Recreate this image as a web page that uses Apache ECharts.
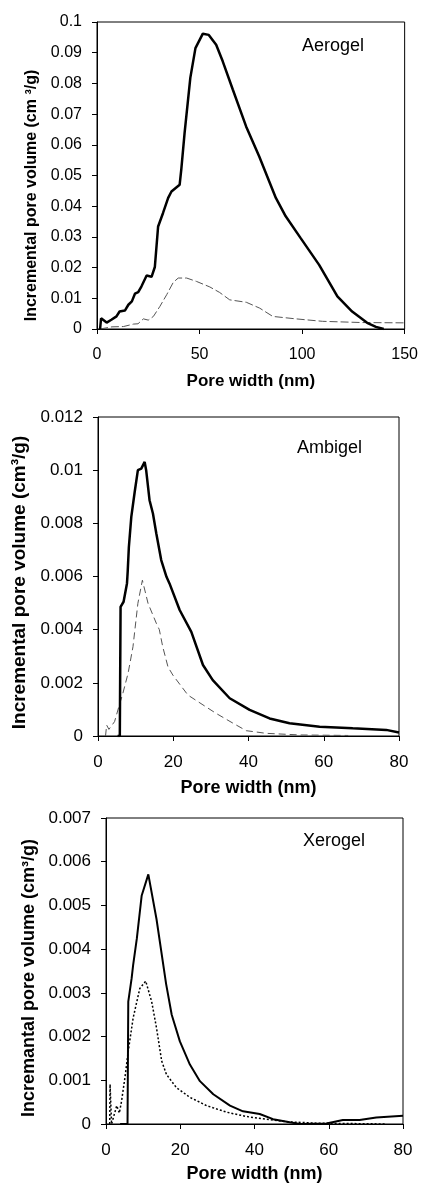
<!DOCTYPE html>
<html>
<head>
<meta charset="utf-8">
<title>Pore size distributions</title>
<script src="https://cdn.jsdelivr.net/npm/echarts@6/dist/echarts.min.js"></script>
<style>
  html, body { margin: 0; padding: 0; background: #fff; }
  #main { width: 421px; height: 1184px; }
</style>
</head>
<body>
<div id="main"></div>
<script>
// pore width (nm) / incremental pore volume (cm3/g)

// Aerogel
var aeroThickX = [1.5, 2, 4.7, 7, 9.5, 11, 13.6, 15.3, 17, 18.5, 20.1, 21.7, 24.2, 26.6, 28.2, 29.8, 32.2, 34.7, 36.3, 40.3, 41.1, 42.7, 45.5, 48, 51.6, 54.5, 58.1, 61.3, 66.2, 72.7, 79.1, 87.2, 92, 99.3, 108.3, 117.2, 124.4, 131.7, 136, 139.8]
var aeroThickY = [0, 0.0035, 0.0021, 0.003, 0.0041, 0.0057, 0.006, 0.0079, 0.009, 0.0115, 0.012, 0.0139, 0.0174, 0.017, 0.0202, 0.0334, 0.0378, 0.0427, 0.0448, 0.047, 0.052, 0.0638, 0.0818, 0.0915, 0.0962, 0.0958, 0.0926, 0.0872, 0.078, 0.066, 0.0562, 0.0427, 0.0367, 0.0296, 0.0209, 0.0106, 0.0057, 0.002, 0.0007, 0]
var aeroThinX = [1.5, 7.3, 12.9, 17.8, 20, 22.6, 25, 27.5, 30.7, 34, 37.2, 39.6, 43.7, 48.5, 55, 59.8, 64.7, 72.8, 79.3, 85.7, 97, 110, 129.3, 150]
var aeroThinY = [0, 0.0007, 0.0008, 0.0016, 0.0017, 0.0033, 0.0029, 0.0041, 0.0074, 0.0112, 0.0152, 0.0166, 0.0166, 0.0155, 0.0137, 0.0119, 0.0095, 0.0087, 0.0068, 0.0041, 0.0033, 0.0025, 0.0021, 0.002]

// Ambigel
var ambiThickX = [5.2, 5.8, 6, 6.8, 7.7, 7.9, 8.2, 8.85, 9.75, 10.6, 11.5, 12.4, 12.8, 13.7, 14.6, 15.5, 16.8, 18.2, 19, 21.7, 24.8, 27.9, 30.5, 35, 40.3, 45.6, 50.9, 58.9, 67.7, 76.6, 80]
var ambiThickY = [0, 0, 0.00486, 0.00505, 0.00574, 0.0062, 0.0071, 0.00824, 0.00918, 0.01, 0.01006, 0.01031, 0.01, 0.00887, 0.00837, 0.00762, 0.00662, 0.00599, 0.00574, 0.00474, 0.00392, 0.00267, 0.0021, 0.00142, 0.00098, 0.00066, 0.00048, 0.00035, 0.00029, 0.00023, 0.00013]
var ambiThinX = [2, 2.3, 2.9, 4.4, 5.6, 6.6, 8, 9.3, 10.6, 11.8, 13.3, 15.5, 16.3, 17.2, 18.6, 19.9, 23.9, 27.9, 31.4, 35.9, 39.4, 44.7, 53.6, 66.5]
var ambiThinY = [0, 0.00041, 0.00025, 0.00054, 0.00113, 0.0016, 0.00236, 0.00336, 0.00499, 0.00586, 0.00499, 0.00424, 0.004, 0.00336, 0.0026, 0.00229, 0.00154, 0.00117, 0.00085, 0.00048, 0.0002, 0.0001, 0.00004, 0.00002]

// Xerogel
var xeroThickX = [3.8, 5.8, 6, 6.9, 7.3, 8.3, 9.6, 11.4, 13.6, 16.2, 17.7, 19.9, 22.6, 25.3, 28.9, 33.4, 36.9, 41.4, 45, 49.5, 52.2, 59.4, 63.8, 68.3, 72.8, 80]
var xeroThickY = [0, 0, 0.0028, 0.00333, 0.00363, 0.00424, 0.00522, 0.00571, 0.00469, 0.0032, 0.0025, 0.00189, 0.00136, 0.00098, 0.00068, 0.00042, 0.00029, 0.00023, 0.00011, 0.00004, 0, 0.00001, 0.00009, 0.00009, 0.00015, 0.00019]
var xeroDotX = [1, 1.1, 1.5, 2, 2.9, 3.6, 4.2, 5.1, 6, 7.3, 9.1, 10.7, 12.3, 13.6, 15, 16.3, 19, 22.6, 27.1, 32.5, 37.9, 43.2, 48.6, 56.6, 75.5]
var xeroDotY = [0, 0.00091, 0, 0, 0.00042, 0.00025, 0.00053, 0.00106, 0.00167, 0.00242, 0.0031, 0.00327, 0.0028, 0.0022, 0.00144, 0.00113, 0.00083, 0.00061, 0.00042, 0.00027, 0.00017, 0.00011, 0.00005, 0.00002, 0]

var FONT = 'Liberation Sans, Arial, sans-serif'

function pairs(xs, ys) {
  return xs.map(function (x, i) { return [x, ys[i]] })
}

function xAxisOf(idx, max, step, fs, gap) {
  return {
    type: 'value', gridIndex: idx, min: 0, max: max, interval: step,
    name: 'Pore width (nm)', nameLocation: 'middle', nameGap: gap,
    nameTextStyle: { fontFamily: FONT, fontWeight: 'bold', fontSize: fs, color: '#000' },
    axisLine: { lineStyle: { color: '#000', width: 1 } },
    axisTick: { show: true, inside: false, length: 5, lineStyle: { color: '#000' } },
    axisLabel: { fontFamily: FONT, fontSize: fs - 1, color: '#000', margin: 18 },
    splitLine: { show: false }
  }
}

// shift > 0 moves the rotated name down the page
function yAxisOf(idx, max, step, name, fs, lfs, gap, shift) {
  return {
    type: 'value', gridIndex: idx, min: 0, max: max, interval: step,
    name: name, nameLocation: 'middle', nameGap: gap,
    nameTextStyle: { fontFamily: FONT, fontWeight: 'bold', fontSize: fs, color: '#000',
      padding: [0, shift * 2, 0, 0] },
    axisLine: { show: true, lineStyle: { color: '#000', width: 1 } },
    axisTick: { show: true, inside: false, length: 5, lineStyle: { color: '#000' } },
    axisLabel: { fontFamily: FONT, fontSize: lfs, color: '#000', margin: 15 },
    splitLine: { show: false }
  }
}

function lineOf(idx, data, width, color, type) {
  return {
    type: 'line', xAxisIndex: idx, yAxisIndex: idx, data: data,
    symbol: 'none', smooth: false, silent: true,
    lineStyle: { color: color, width: width, type: type }
  }
}

var chart = echarts.init(document.getElementById('main'), null, { renderer: 'canvas' })

chart.setOption({
  backgroundColor: '#fff',
  animation: false,
  grid: [
    { left: 97, top: 22, width: 309, height: 307, show: true, borderColor: '#000', borderWidth: 1, backgroundColor: 'transparent' },
    { left: 98, top: 417, width: 301, height: 319, show: true, borderColor: '#000', borderWidth: 1, backgroundColor: 'transparent' },
    { left: 106, top: 818, width: 297, height: 309, show: true, borderColor: '#000', borderWidth: 1, backgroundColor: 'transparent' }
  ],
  xAxis: [
    xAxisOf(0, 150, 50, 17, 44),
    xAxisOf(1, 80, 20, 18, 43),
    xAxisOf(2, 80, 20, 18, 41)
  ],
  yAxis: [
    yAxisOf(0, 0.1, 0.01, 'Incremental pore volume (cm ³/g)', 16, 16, 50, 20),
    yAxisOf(1, 0.012, 0.002, 'Incremental pore volume (cm³/g)', 19, 17, 66, 6),
    yAxisOf(2, 0.007, 0.001, 'Incremantal pore volume (cm³/g)', 18, 17, 64, 7)
  ],
  series: [
    lineOf(0, pairs(aeroThinX, aeroThinY), 1, '#555', [8, 3]),
    lineOf(0, pairs(aeroThickX, aeroThickY), 2.5, '#000', 'solid'),
    lineOf(1, pairs(ambiThinX, ambiThinY), 1, '#555', [7, 4]),
    lineOf(1, pairs(ambiThickX, ambiThickY), 2.5, '#000', 'solid'),
    lineOf(2, pairs(xeroDotX, xeroDotY), 1.5, '#000', [2, 2]),
    lineOf(2, pairs(xeroThickX, xeroThickY), 2, '#000', 'solid')
  ],
  graphic: [
    { type: 'text', left: 302, top: 37, style: { text: 'Aerogel', fontFamily: FONT, fontSize: 18, fill: '#000' } },
    { type: 'text', left: 297, top: 439, style: { text: 'Ambigel', fontFamily: FONT, fontSize: 18, fill: '#000' } },
    { type: 'text', left: 303, top: 832, style: { text: 'Xerogel', fontFamily: FONT, fontSize: 18, fill: '#000' } }
  ]
})
</script>
</body>
</html>
